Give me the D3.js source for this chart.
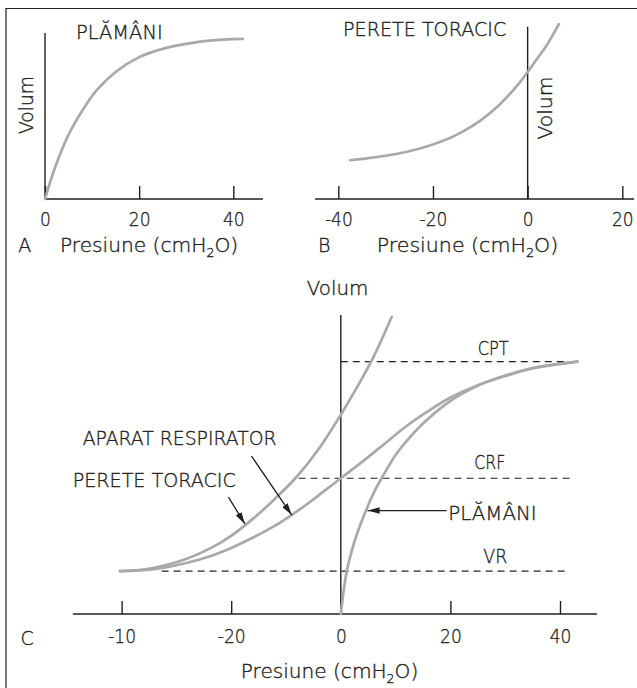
<!DOCTYPE html>
<html><head><meta charset="utf-8">
<script src="https://cdn.jsdelivr.net/npm/d3@7"></script>
<style>body{margin:0;background:#fff}svg{display:block}</style>
</head><body>
<script>
// ---------------- DATA ----------------
// Panel A : lung compliance curve
const lungA_P = [0, 2, 5, 8, 11, 15, 20, 25, 30, 35, 42];
const lungA_V = [0, 18, 39, 54, 66, 77, 86, 91, 94, 96, 97];
// Panel B : chest wall curve
const chestB_P = [-37.5, -34, -30, -26, -22, -18, -14, -10, -6, -2, 0, 2, 4, 6.6];
const chestB_V = [23.5, 24.6, 26.2, 28.3, 31.2, 35.1, 40.4, 47.5, 57, 69.5, 77, 85, 93, 106];
// Panel C : chest wall, respiratory system, lungs
const chestC_P = [-40.3, -36, -32, -28, -24, -20, -16, -12, -8, -4, 0, 3, 6, 9.3];
const chestC_V = [17, 17.6, 19.3, 22, 25.8, 31, 37.8, 45.7, 54.5, 65.5, 79, 90, 102, 117.8];
const respC_P = [-40.3, -36, -32, -28, -24, -20, -16, -12, -9, -6, -3, 0, 4, 8, 12, 16, 20, 25, 30, 35, 43.2];
const respC_V = [17, 17.4, 18.5, 20.3, 22.8, 26.2, 30.3, 35, 39.2, 43.8, 48.8, 53.8, 60.5, 67.5, 74.5, 80.5, 85.8, 90.7, 94.3, 97.3, 100];
const lungC_P = [0, 1, 2, 3, 4.6, 6, 7.5, 10, 12, 15, 20, 25, 30, 35, 43.2];
const lungC_V = [0, 16, 25, 32, 41, 48, 54, 63, 68.5, 75.5, 84.5, 90.5, 94.5, 97.5, 100];
// volume levels (name, volume, pressure extent)
const levelNames = ["CPT", "CRF", "VR"];
const levelValues = [100, 53.8, 17];
const levelFrom = [0, -7.7, -32.7];
const levelTo = [43.2, 42.2, 41.7];
// ticks
const ticksA = [0, 20, 40];
const ticksA_labels = ["0", "20", "40"];
const ticksB = [-40, -20, 0, 20];
const ticksB_labels = ["-40", "-20", "0", "20"];
const ticksC = [-40, -20, 0, 20, 40];
const ticksC_labels = ["-10", "-20", "0", "20", "40"];
// axis extents (data units)
const axisA_P = [0, 46.3], axisA_V = [0, 100.6];
const axisB_P = [-44.9, 22.5], axisB_V = [0, 104.4];
const axisC_P = [-48.9, 46.75], axisC_V = [0, 118.5];

// ---------------- DRAW ----------------
const W = 637, H = 688;
const INK = "#231f20", CURVE = "#a7a9ac", FONT = "DejaVu Sans";
const svg = d3.select("body").append("svg").attr("width", W).attr("height", H);

svg.append("defs").append("marker")
  .attr("id", "ah").attr("markerUnits", "userSpaceOnUse")
  .attr("markerWidth", 13).attr("markerHeight", 8)
  .attr("refX", 12).attr("refY", 3.25).attr("orient", "auto")
  .append("path").attr("d", "M0,0 L12,3.25 L0,6.5 Z").attr("fill", INK);

// frame
svg.append("path").attr("d", "M6,688 V8.5 H637").attr("fill", "none")
  .attr("stroke", INK).attr("stroke-width", 1.2);

const xA = d3.scaleLinear([0, 40], [45, 233.3]);
const yAB = d3.scaleLinear([0, 100], [199, 34]);
const xB = d3.scaleLinear([-40, 20], [338.3, 622.3]);
const xC = d3.scaleLinear([-40, 40], [121.6, 560]);
const yC = d3.scaleLinear([0, 100], [614, 361.7]);

function styleText(t, size) {
  return t.attr("font-family", FONT).attr("font-size", size).attr("font-weight", 300)
    .attr("fill", INK).attr("stroke", INK).attr("stroke-width", 0.35);
}

function label(str, x, y, opt = {}) {
  const size = opt.size || 19;
  const g = svg.append("g").attr("transform", `translate(${x},${y})` + (opt.rotate ? ` rotate(${opt.rotate})` : ""));
  const t = styleText(g.append("text"), size).attr("text-anchor", opt.anchor || "start");
  if (opt.sub) {
    t.append("tspan").text(str[0]);
    t.append("tspan").text(str[1]).attr("font-size", size * 0.62).attr("dy", size * 0.28);
    t.append("tspan").text(str[2]).attr("dy", -size * 0.28);
  } else t.text(str);
  if (opt.width) {
    const w0 = t.node().getComputedTextLength();
    t.attr("transform", `scale(${opt.width / w0},1)`);
  }
  return t;
}

function axis(x, y, yPix, P, V, ticks, labels, tickBaseline) {
  const g = svg.append("g");
  g.append("line").attr("x1", x(P[0])).attr("x2", x(P[1])).attr("y1", yPix).attr("y2", yPix)
    .attr("stroke", INK).attr("stroke-width", 1.4);
  g.append("line").attr("x1", x(0)).attr("x2", x(0)).attr("y1", y(V[0])).attr("y2", y(V[1]))
    .attr("stroke", INK).attr("stroke-width", 1.4);
  const ax = d3.axisBottom(x).tickValues(ticks).tickSize(-13).tickSizeOuter(0).tickFormat((d, i) => labels[i]);
  const ag = g.append("g").attr("transform", `translate(0,${yPix})`).call(ax);
  ag.select(".domain").remove();
  ag.selectAll(".tick line").attr("stroke", INK).attr("stroke-width", 1.4);
  styleText(ag.selectAll(".tick text"), 19).attr("dy", null).attr("y", tickBaseline - yPix);
  const ref = ag.selectAll(".tick text").filter(function () { return this.textContent === "20"; }).node();
  const s = ref ? 21.7 / ref.getComputedTextLength() : 0.9;
  ag.selectAll(".tick text").attr("transform", `scale(${s},1)`);
}

function curve(x, y, P, V) {
  const pts = P.map((p, i) => [x(p), y(V[i])]);
  svg.append("path").attr("d", d3.line().curve(d3.curveCatmullRom.alpha(0.5))(pts))
    .attr("fill", "none").attr("stroke", CURVE).attr("stroke-width", 2.7).attr("stroke-linecap", "round");
}

// ---- Panel A
axis(xA, yAB, yAB(0), axisA_P, axisA_V, ticksA, ticksA_labels, 226);
curve(xA, yAB, lungA_P, lungA_V);
label("PLĂMÂNI", 76, 39.3, { width: 86.7 });
label("Volum", 33.3, 105, { rotate: -90, anchor: "middle", width: 58 });
label("A", 18.3, 252);
label(["Presiune (cmH", "2", "O)"], 60, 252, { sub: true, width: 178.3 });

// ---- Panel B
axis(xB, yAB, yAB(0), axisB_P, axisB_V, ticksB, ticksB_labels, 226);
curve(xB, yAB, chestB_P, chestB_V);
label("PERETE TORACIC", 343, 36, { width: 163.4 });
label("Volum", 551.7, 108, { rotate: -90, anchor: "middle", width: 63 });
label("B", 318, 252);
label(["Presiune (cmH", "2", "O)"], 376.7, 252, { sub: true, width: 181.6 });

// ---- Panel C
levelNames.forEach((n, i) => {
  svg.append("line").attr("x1", xC(levelFrom[i])).attr("x2", xC(levelTo[i]))
    .attr("y1", yC(levelValues[i])).attr("y2", yC(levelValues[i]))
    .attr("stroke", INK).attr("stroke-width", 1.2).attr("stroke-dasharray", "7,5");
});
axis(xC, yC, yC(0), axisC_P, axisC_V, ticksC, ticksC_labels, 643);
curve(xC, yC, chestC_P, chestC_V);
curve(xC, yC, respC_P, respC_V);
curve(xC, yC, lungC_P, lungC_V);

label("Volum", 337.5, 295, { anchor: "middle", width: 61.6 });
label("C", 20.4, 645);
label(["Presiune (cmH", "2", "O)"], 240.8, 678, { sub: true, width: 177.6 });
levelNames.forEach((n, i) => {
  const pos = [[27.8, 102.7], [27.2, 57.4], [28.2, 20.4]][i];
  label(n, xC(pos[0]), yC(pos[1]), { anchor: "middle", width: [31, 31, 24][i] });
});
label("PLĂMÂNI", 448.3, 520, { width: 88.4 });
label("APARAT RESPIRATOR", 82.7, 445, { width: 194 });
label("PERETE TORACIC", 72.7, 486.7, { width: 163.3 });

// annotation arrows (data units: pressure, volume)
const arrows = [
  [[19.3, 41], [4.9, 41]],
  [[-16.3, 62.6], [-8.95, 39.2]],
  [[-20.5, 46.3], [-17.5, 35.7]]
];
arrows.forEach(a => {
  svg.append("line").attr("x1", xC(a[0][0])).attr("y1", yC(a[0][1]))
    .attr("x2", xC(a[1][0])).attr("y2", yC(a[1][1]))
    .attr("stroke", INK).attr("stroke-width", 1.3).attr("marker-end", "url(#ah)");
});
</script>
</body></html>
